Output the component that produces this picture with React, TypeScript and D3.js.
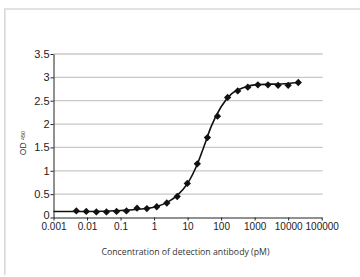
import React, { useEffect, useRef } from 'react';
import * as d3 from 'd3';

// dilution series (pM) and measured OD450
const conc = [
  0.0048, 0.0095, 0.019, 0.038, 0.076, 0.15, 0.31, 0.61, 1.2, 2.4, 4.9, 9.8, 19.5, 39, 78, 156, 313, 625,
  1250, 2500, 5000, 10000, 20000
];
const od = [
  0.14, 0.13, 0.12, 0.12, 0.13, 0.14, 0.2, 0.19, 0.23, 0.31, 0.45, 0.73, 1.15, 1.71, 2.17, 2.57, 2.71, 2.79,
  2.84, 2.84, 2.83, 2.83, 2.89
];

// fitted curve
const fitConc = [0.001, 0.01, 0.1, 1, 3, 5, 10, 20, 30, 50, 100, 200, 500, 1000, 10000, 20000];
const fitOd = [0.13, 0.13, 0.15, 0.22, 0.36, 0.48, 0.73, 1.16, 1.5, 1.94, 2.37, 2.64, 2.79, 2.84, 2.87, 2.89];

const xTicks = [0.001, 0.01, 0.1, 1, 10, 100, 1000, 10000, 100000];
const xTickLabels = ['0.001', '0.01', '0.1', '1', '10', '100', '1000', '10000', '100000'];
const yTicks = [0, 0.5, 1, 1.5, 2, 2.5, 3, 3.5];

const App = () => {
  const ref = useRef<SVGSVGElement>(null);

  useEffect(() => {
    const svg = d3.select(ref.current);
    svg.selectAll('*').remove();

    const margin = { left: 53.5, right: 321.7, top: 54, bottom: 217.5 };

    const x = d3.scaleLog().domain([0.001, 100000]).range([margin.left, margin.right]);
    const y = d3.scaleLinear().domain([0, 3.5]).range([margin.bottom, margin.top]);

    // outer frame
    svg.append('line').attr('x1', 4).attr('x2', 360).attr('y1', 9).attr('y2', 9)
      .attr('stroke', '#d9d9d9').attr('stroke-width', 1.6);
    svg.append('line').attr('x1', 4.8).attr('x2', 4.8).attr('y1', 9).attr('y2', 275)
      .attr('stroke', '#d9d9d9').attr('stroke-width', 1.6);

    // grid
    svg.append('g')
      .selectAll('line')
      .data(yTicks.filter((d) => d > 0))
      .enter()
      .append('line')
      .attr('x1', margin.left)
      .attr('x2', margin.right + 1)
      .attr('y1', (d) => y(d))
      .attr('y2', (d) => y(d))
      .attr('stroke', '#c8c8c8')
      .attr('stroke-width', 1.3);

    const yAxis = svg.append('g')
      .attr('transform', `translate(${margin.left},0)`)
      .call(d3.axisLeft(y).tickValues(yTicks).tickFormat(d3.format('')).tickSize(3).tickSizeOuter(0).tickPadding(1));
    yAxis.select('.domain').attr('stroke', '#222');
    yAxis.selectAll('.tick line').attr('stroke', '#222');
    yAxis.selectAll('text').attr('font-size', 11).attr('fill', '#222')
      .attr('font-family', '"Liberation Sans", Arial, sans-serif');
    // the zero label sits a little high so it clears 0.001
    yAxis.selectAll<SVGTextElement, number>('text').filter((d) => d === 0).attr('dy', '0.05em');

    const xAxis = svg.append('g')
      .attr('transform', `translate(0,${margin.bottom})`)
      .call(
        d3.axisBottom(x)
          .tickValues(xTicks)
          .tickFormat((d, i) => xTickLabels[i])
          .tickSize(3)
          .tickSizeOuter(0)
          .tickPadding(2.5)
      );
    xAxis.select('.domain').attr('stroke', '#222');
    xAxis.selectAll('.tick line').attr('stroke', '#222');
    xAxis.selectAll('text').attr('font-size', 10).attr('fill', '#222')
      .attr('font-family', '"Liberation Sans", Arial, sans-serif');

    // fit curve
    const line = d3.line<number>()
      .x((d, i) => x(fitConc[i]))
      .y((d) => y(d))
      .curve(d3.curveMonotoneX);
    svg.append('path')
      .attr('d', line(fitOd))
      .attr('fill', 'none')
      .attr('stroke', '#111')
      .attr('stroke-width', 1.6);

    // markers
    const sym = d3.symbol().type((d3 as any).symbolDiamond2 || d3.symbolDiamond).size(34);
    svg.append('g')
      .selectAll('path')
      .data(od)
      .enter()
      .append('path')
      .attr('d', sym() as string)
      .attr('transform', (d, i) => `translate(${x(conc[i])},${y(d)})`)
      .attr('fill', '#111');

    // titles
    svg.append('text')
      .attr('transform', 'translate(25.5,143) rotate(-90)')
      .attr('text-anchor', 'middle')
      .attr('font-family', '"Liberation Sans", Arial, sans-serif')
      .attr('fill', '#333')
      .attr('font-size', 8.5)
      .text('OD ')
      .append('tspan')
      .attr('font-size', 5.5)
      .attr('dy', -0.5)
      .text('450');

    svg.append('text')
      .attr('x', 185.5)
      .attr('y', 255)
      .attr('text-anchor', 'middle')
      .attr('font-family', '"Open Sans", sans-serif')
      .attr('font-size', 8.5)
      .attr('fill', '#333')
      .attr('textLength', 168)
      .attr('lengthAdjust', 'spacingAndGlyphs')
      .text('Concentration of detection antibody (pM)');
  }, []);

  return (
    <svg
      ref={ref}
      width={360}
      height={277}
      style={{ position: 'absolute', left: 0, top: 0, background: '#fff' }}
    />
  );
};

export default App;
